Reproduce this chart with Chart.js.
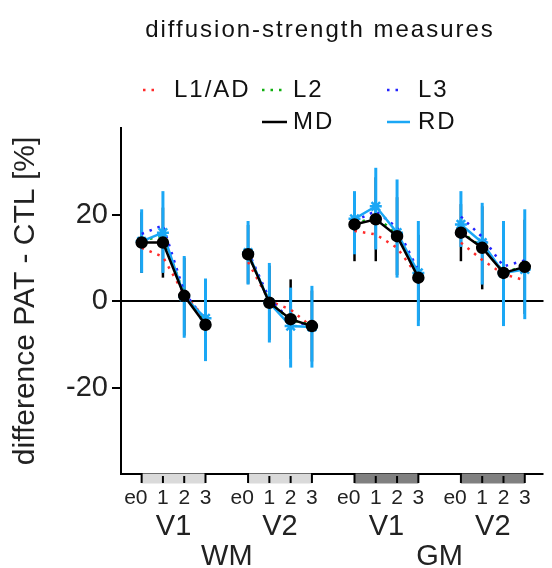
<!DOCTYPE html>
<html>
<head>
<meta charset="utf-8">
<script src="https://cdn.jsdelivr.net/npm/chart.js@4.4.1/dist/chart.umd.min.js"></script>
<style>
  html, body { margin: 0; padding: 0; background: #fff; }
  #wrap { width: 552px; height: 568px; position: relative; }
</style>
</head>
<body>
<div id="wrap"><canvas id="chart"></canvas></div>
<script>
// categories
const stages = ['e0', '1', '2', '3'];
const sessions = ['V1', 'V2', 'V1', 'V2'];
const groupTissue = ['WM', 'WM', 'GM', 'GM'];
const yTicks = [-20, 0, 20];

// values, group order: WM V1, WM V2, GM V1, GM V2 (4 stages each)
const l1 = [12.3, 10.2, 1.5, -4.0,   9.0, 0.0, -2.0, -6.0,   16.2, 15.4, 12.3, 5.6,   13.5, 9.5, 6.2, 4.8];
const l2 = [14.0, 15.0, 1.5, -5.0,   10.8, -0.2, -4.4, -5.6, 17.8, 19.5, 15.5, 5.8,   16.0, 12.5, 6.8, 7.8];
const l3 = [15.5, 17.5, 2.0, -4.5,   11.5, 0.5, -4.5, -5.8,  18.5, 20.8, 17.0, 7.0,   19.5, 14.8, 8.0, 9.4];
const md = [13.5, 13.5, 1.2, -5.5,   10.8, -0.4, -4.2, -5.8, 17.7, 18.9, 15.0, 5.4,   15.8, 12.3, 6.5, 7.9];
const rd = [13.8, 15.8, 1.0, -4.0,   11.2, -0.4, -5.8, -6.0, 19.0, 21.9, 15.8, 6.5,   17.7, 13.5, 6.5, 7.3];

// error bar ends
const mdLow  = [6.5, 5.4, -8.0, -13.0,   4.0, -9.0, -13.4, -14.0,  9.2, 9.2, 6.0, -4.5,   9.2, 2.7, -3.5, -3.0];
const mdHigh = [20.5, 21.6, 10.0, 2.0,   17.6, 8.2, 5.0, 2.4,      24.0, 28.6, 24.0, 15.3, 22.4, 21.9, 16.5, 18.8];
const rdLow  = [6.5, 6.5, -8.5, -13.9,   3.8, -9.6, -15.4, -15.4,  10.8, 11.9, 5.4, -5.8,  12.5, 3.8, -5.8, -4.2];
const rdHigh = [21.2, 25.4, 10.4, 5.2,   18.5, 8.8, 3.1, 3.5,      25.4, 30.8, 28.1, 18.5, 25.4, 22.7, 18.5, 21.2];

const FONT = "'Liberation Sans', Arial, sans-serif";
const RD_COLOR = '#1aa7f5';
const slot = stages.length + 1;

function toPoints(values) {
  const pts = [];
  values.forEach((v, i) => {
    const g = Math.floor(i / stages.length);
    const s = i % stages.length;
    if (s === 0 && g > 0) pts.push({ x: g * slot - 1, y: null });
    pts.push({ x: g * slot + s, y: v });
  });
  return pts;
}

function xOf(i) {
  return Math.floor(i / stages.length) * slot + (i % stages.length);
}

const errorBars = {
  id: 'errorBars',
  beforeDatasetsDraw(chart) {
    const { ctx, scales: { x, y } } = chart;
    const sets = [[mdLow, mdHigh, '#000', 2.5], [rdLow, rdHigh, RD_COLOR, 3]];
    ctx.save();
    sets.forEach(([lo, hi, color, w]) => {
      ctx.strokeStyle = color;
      ctx.lineWidth = w;
      lo.forEach((v, i) => {
        const px = x.getPixelForValue(xOf(i));
        ctx.beginPath();
        ctx.moveTo(px, y.getPixelForValue(v));
        ctx.lineTo(px, y.getPixelForValue(hi[i]));
        ctx.stroke();
      });
    });
    ctx.restore();
  }
};

const decorations = {
  id: 'decorations',
  afterDraw(chart) {
    const { ctx, chartArea, scales: { x } } = chart;
    const base = chartArea.bottom;
    ctx.save();

    // bottom axis line
    ctx.strokeStyle = '#000';
    ctx.lineWidth = 2;
    ctx.beginPath();
    ctx.moveTo(chartArea.left, base);
    ctx.lineTo(chartArea.right, base);
    ctx.stroke();

    // group bands + ticks + labels
    sessions.forEach((sess, g) => {
      const x0 = x.getPixelForValue(g * slot);
      const x1 = x.getPixelForValue(g * slot + stages.length - 1);
      ctx.fillStyle = groupTissue[g] === 'WM' ? '#dadada' : '#808080';
      ctx.fillRect(x0, base - 0.5, x1 - x0, 10);

      ctx.strokeStyle = '#000';
      ctx.lineWidth = 2;
      stages.forEach((st, s) => {
        const px = x.getPixelForValue(g * slot + s);
        const edge = s === 0 || s === stages.length - 1;
        ctx.beginPath();
        ctx.moveTo(px, edge ? base - 1 : base + 2);
        ctx.lineTo(px, base + 9);
        ctx.stroke();

        ctx.fillStyle = '#222';
        ctx.font = `21px ${FONT}`;
        ctx.textBaseline = 'middle';
        ctx.textAlign = 'right';
        const last = ctx.measureText(st.slice(-1)).width;
        ctx.fillText(st, px + last / 2, 498);
      });

      ctx.font = `29px ${FONT}`;
      ctx.textAlign = 'center';
      ctx.fillText(sess, (x0 + x1) / 2, 527);
    });

    // tissue labels
    [...new Set(groupTissue)].forEach(t => {
      const first = groupTissue.indexOf(t);
      const lastG = groupTissue.lastIndexOf(t);
      const a = x.getPixelForValue(first * slot);
      const b = x.getPixelForValue(lastG * slot + stages.length - 1);
      ctx.font = `29px ${FONT}`;
      ctx.textAlign = 'center';
      ctx.fillStyle = '#222';
      ctx.fillText(t, (a + b) / 2, 557);
    });

    // title
    ctx.letterSpacing = '2px';
    ctx.font = `24px ${FONT}`;
    ctx.fillStyle = '#111';
    ctx.textAlign = 'center';
    ctx.fillText('diffusion-strength measures', 320, 30);

    // legend
    const slots = [[143, 90], [262, 90], [387, 90], [262, 122], [387, 122]];
    const symLen = [14, 21, 17, 25, 23];
    chart.data.datasets.slice().sort((a, b) => a.legendIndex - b.legendIndex).forEach((ds, k) => {
      const [lx, ly] = slots[k];
      ctx.strokeStyle = ds.borderColor;
      ctx.lineWidth = 2.5;
      ctx.setLineDash(ds.borderDash || []);
      ctx.beginPath();
      ctx.moveTo(lx, ly);
      ctx.lineTo(lx + symLen[k], ly);
      ctx.stroke();
      ctx.setLineDash([]);
      ctx.fillStyle = '#111';
      ctx.textAlign = 'left';
      ctx.font = `24px ${FONT}`;
      ctx.fillText(ds.label, lx + 31, ly);
    });
    ctx.restore();
  }
};

const dotted = [2.5, 6];

new Chart(document.getElementById('chart'), {
  type: 'line',
  data: {
    datasets: [
      { label: 'MD', legendIndex: 3, data: toPoints(md), borderColor: '#000', backgroundColor: '#000',
        borderWidth: 2.5, pointRadius: 5, pointStyle: 'circle', order: 0 },
      { label: 'RD', legendIndex: 4, data: toPoints(rd), borderColor: RD_COLOR, backgroundColor: RD_COLOR,
        borderWidth: 2.5, pointRadius: 6, pointStyle: 'star', pointBorderWidth: 2.5, order: 1 },
      { label: 'L3', legendIndex: 2, data: toPoints(l3), borderColor: '#2323ff', borderDash: dotted,
        borderWidth: 2.5, pointRadius: 0, order: 2 },
      { label: 'L2', legendIndex: 1, data: toPoints(l2), borderColor: '#10b010', borderDash: dotted,
        borderWidth: 2.5, pointRadius: 0, order: 3 },
      { label: 'L1/AD', legendIndex: 0, data: toPoints(l1), borderColor: '#ff2a2a', borderDash: dotted,
        borderWidth: 2.5, pointRadius: 0, order: 4 }
    ]
  },
  options: {
    responsive: true,
    maintainAspectRatio: false,
    animation: false,
    spanGaps: false,
    layout: { padding: { top: 128, right: 0, bottom: 94, left: 0 } },
    plugins: { legend: { display: false }, tooltip: { enabled: false } },
    scales: {
      x: { type: 'linear', display: false, min: -0.97, max: 18.88 },
      y: {
        min: -40,
        max: 40,
        afterBuildTicks: s => { s.ticks = yTicks.map(v => ({ value: v })); },
        afterFit: s => { s.width = 121; },
        border: { display: true, color: '#000', width: 2 },
        grid: {
          color: c => (c.tick && c.tick.value === 0 ? '#000' : 'rgba(0,0,0,0)'),
          lineWidth: 2,
          tickColor: '#000',
          tickLength: 9
        },
        ticks: { color: '#222', font: { size: 29, family: FONT }, padding: 4 },
        title: {
          display: true,
          text: 'difference PAT - CTL [%]',
          color: '#222',
          font: { size: 30, family: FONT },
          padding: { top: 8, bottom: 0 }
        }
      }
    }
  },
  plugins: [errorBars, decorations]
});
</script>
</body>
</html>
